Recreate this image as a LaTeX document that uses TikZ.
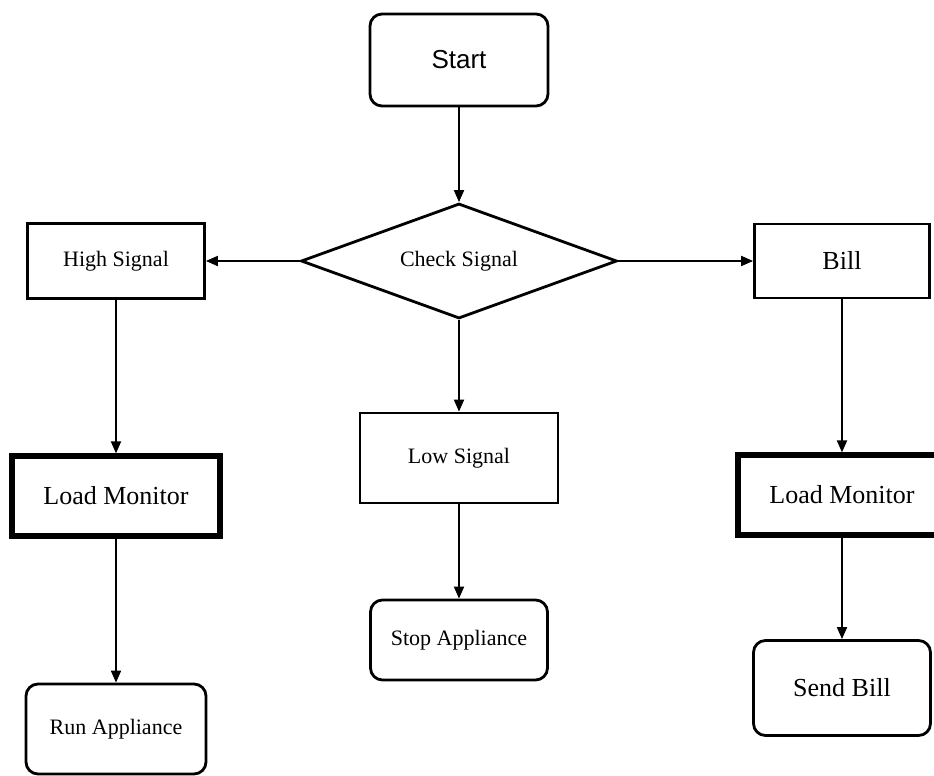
\documentclass[tikz,border=0pt]{standalone}
\usepackage{fontspec}
\setmainfont{Liberation Serif}
\newfontfamily\startfont{Liberation Sans}
\usetikzlibrary{shapes.geometric}
\usetikzlibrary{arrows.meta}
\tikzset{
	flowbox/.style={draw=black, line width=1.4pt, rectangle, inner sep=0pt, align=center},
	heavybox/.style={flowbox, line width=2.6pt},
	endbox/.style={flowbox, rounded corners=6pt},
	decision/.style={draw=black, line width=1.4pt, diamond, aspect=2.75, inner sep=0pt},
	flowarrow/.style={draw=black, line width=0.9pt, -{Triangle[length=6pt,width=5pt]}},
	smalltext/.style={font=\fontsize{11}{13}\selectfont},
	bigtext/.style={font=\fontsize{13}{15}\selectfont}
}

\begin{document}
\begin{tikzpicture}[x=0.5pt, y=-0.5pt]
	\useasboundingbox (0,0) rectangle (934,776);

	% top
	\node[endbox, minimum width=89pt, minimum height=46pt, font=\startfont\fontsize{13}{15}\selectfont] (start) at (459,60) {Start};
	\node[decision, minimum width=158pt, minimum height=57.5pt, smalltext] (check) at (459,261) {Check Signal};

	% left column
	\node[flowbox, minimum width=88.5pt, minimum height=37.5pt, smalltext] (high) at (116,261) {High Signal};
	\node[heavybox, minimum width=104pt, minimum height=40pt, bigtext] (loadL) at (116,496) {Load Monitor};
	\node[endbox, minimum width=90pt, minimum height=45pt, smalltext] (run) at (116,729) {Run Appliance};

	% middle column
	\node[flowbox, minimum width=99pt, minimum height=45pt, smalltext] (low) at (459,458) {Low Signal};
	\node[endbox, minimum width=88.5pt, minimum height=40pt, smalltext] (stop) at (459,640) {Stop Appliance};

	% right column
	\node[flowbox, minimum width=87.5pt, minimum height=37pt, bigtext] (bill) at (842,261) {Bill};
	\node[heavybox, minimum width=104pt, minimum height=40pt, bigtext] (loadR) at (842,495) {Load Monitor};
	\node[endbox, minimum width=88.5pt, minimum height=47.5pt, bigtext] (send) at (842,688) {Send Bill};

	% arrows
	\draw[flowarrow] (start) -- (check);
	\draw[flowarrow] (check.west) -- (high.east);
	\draw[flowarrow] (check.east) -- (bill.west);
	\draw[flowarrow] (check.south) -- (low.north);
	\draw[flowarrow] (high) -- (loadL);
	\draw[flowarrow] (loadL) -- (run);
	\draw[flowarrow] (low) -- (stop);
	\draw[flowarrow] (bill) -- (loadR);
	\draw[flowarrow] (loadR) -- (send);
\end{tikzpicture}
\end{document}
